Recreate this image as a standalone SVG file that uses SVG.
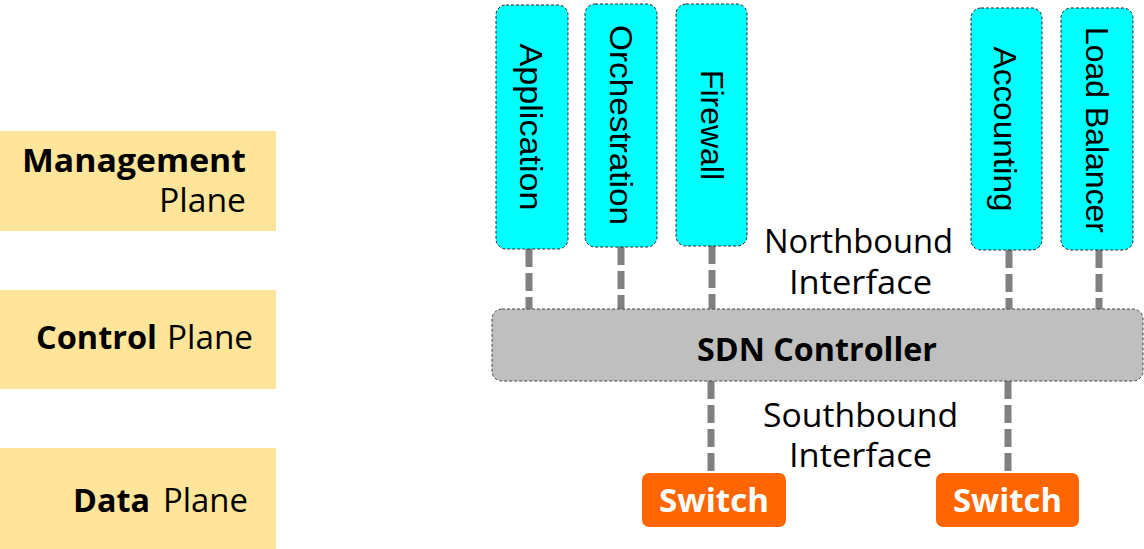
<svg xmlns="http://www.w3.org/2000/svg" width="1144" height="549" viewBox="0 0 1144 549">
<style>
  .plane { fill: #FFE599; }
  .app { fill: #00FFFF; stroke: #222222; stroke-width: 1; stroke-dasharray: 3 2; }
  .ctrl { fill: #BFBFBF; stroke: #444444; stroke-width: 1; stroke-dasharray: 3 2; }
  .sw { fill: #FF6600; }
  .conn { stroke: #808080; stroke-width: 7; stroke-dasharray: 18 6; fill: none; }
  .vt { font-family: "Liberation Sans", Arial, sans-serif; font-size: 32px; fill: #000; text-anchor: middle; }
  .t { font-family: "Open Sans", "DejaVu Sans", sans-serif; font-size: 32px; fill: #000; }
  .b { font-weight: bold; }
  .w { fill: #FFFFFF; }
</style>
<rect width="1144" height="549" fill="#FFFFFF"/>

<g id="management-plane">
  <rect class="plane" x="0" y="131" width="276" height="100"/>
  <text class="t b" x="22" y="172" textLength="224" lengthAdjust="spacingAndGlyphs">Management</text>
  <text class="t" x="159" y="212" textLength="87" lengthAdjust="spacingAndGlyphs">Plane</text>
</g>
<g id="control-plane">
  <rect class="plane" x="0" y="290" width="276" height="99"/>
  <text class="t b" x="36" y="349" textLength="121" lengthAdjust="spacingAndGlyphs">Control</text>
  <text class="t" x="167" y="349" textLength="86" lengthAdjust="spacingAndGlyphs">Plane</text>
</g>
<g id="data-plane">
  <rect class="plane" x="0" y="448" width="276" height="101"/>
  <text class="t b" x="73" y="512" textLength="77" lengthAdjust="spacingAndGlyphs">Data</text>
  <text class="t" x="163" y="512" textLength="85" lengthAdjust="spacingAndGlyphs">Plane</text>
</g>

<g id="connectors">
  <line class="conn" x1="529" y1="249" x2="529" y2="309"/>
  <line class="conn" x1="621" y1="247" x2="621" y2="309"/>
  <line class="conn" x1="712" y1="246" x2="712" y2="309"/>
  <line class="conn" x1="1009" y1="250" x2="1009" y2="309"/>
  <line class="conn" x1="1099" y1="250" x2="1099" y2="309"/>
  <line class="conn" x1="711" y1="381" x2="711" y2="473"/>
  <line class="conn" x1="1008" y1="381" x2="1008" y2="473"/>
</g>

<g id="application">
  <rect class="app" x="496" y="5" width="72" height="244" rx="10"/>
  <text class="vt" transform="translate(520 127) rotate(90)" textLength="167" lengthAdjust="spacingAndGlyphs">Application</text>
</g>
<g id="orchestration">
  <rect class="app" x="585" y="4" width="72" height="243" rx="10"/>
  <text class="vt" transform="translate(610 125) rotate(90)" textLength="200" lengthAdjust="spacingAndGlyphs">Orchestration</text>
</g>
<g id="firewall">
  <rect class="app" x="676" y="4" width="71" height="242" rx="10"/>
  <text class="vt" transform="translate(701 125) rotate(90)" textLength="110" lengthAdjust="spacingAndGlyphs">Firewall</text>
</g>
<g id="accounting">
  <rect class="app" x="971" y="8" width="71" height="242" rx="10"/>
  <text class="vt" transform="translate(994 129) rotate(90)" textLength="165" lengthAdjust="spacingAndGlyphs">Accounting</text>
</g>
<g id="load-balancer">
  <rect class="app" x="1061" y="8" width="72" height="242" rx="10"/>
  <text class="vt" transform="translate(1086 130) rotate(90)" textLength="206" lengthAdjust="spacingAndGlyphs">Load Balancer</text>
</g>

<g id="northbound-label">
  <text class="t" x="764" y="253" textLength="189" lengthAdjust="spacingAndGlyphs">Northbound</text>
  <text class="t" x="789" y="294" textLength="143" lengthAdjust="spacingAndGlyphs">Interface</text>
</g>

<g id="sdn-controller">
  <rect class="ctrl" x="492" y="309" width="651" height="72" rx="10"/>
  <text class="t b" x="697" y="361" textLength="240" lengthAdjust="spacingAndGlyphs">SDN Controller</text>
</g>

<g id="southbound-label">
  <text class="t" x="763" y="427" textLength="195" lengthAdjust="spacingAndGlyphs">Southbound</text>
  <text class="t" x="789" y="467" textLength="143" lengthAdjust="spacingAndGlyphs">Interface</text>
</g>

<g id="switch-1">
  <rect class="sw" x="642" y="473" width="144" height="54" rx="7"/>
  <text class="t b w" x="659" y="512" textLength="110" lengthAdjust="spacingAndGlyphs">Switch</text>
</g>
<g id="switch-2">
  <rect class="sw" x="936" y="473" width="143" height="54" rx="7"/>
  <text class="t b w" x="953" y="512" textLength="109" lengthAdjust="spacingAndGlyphs">Switch</text>
</g>
</svg>
